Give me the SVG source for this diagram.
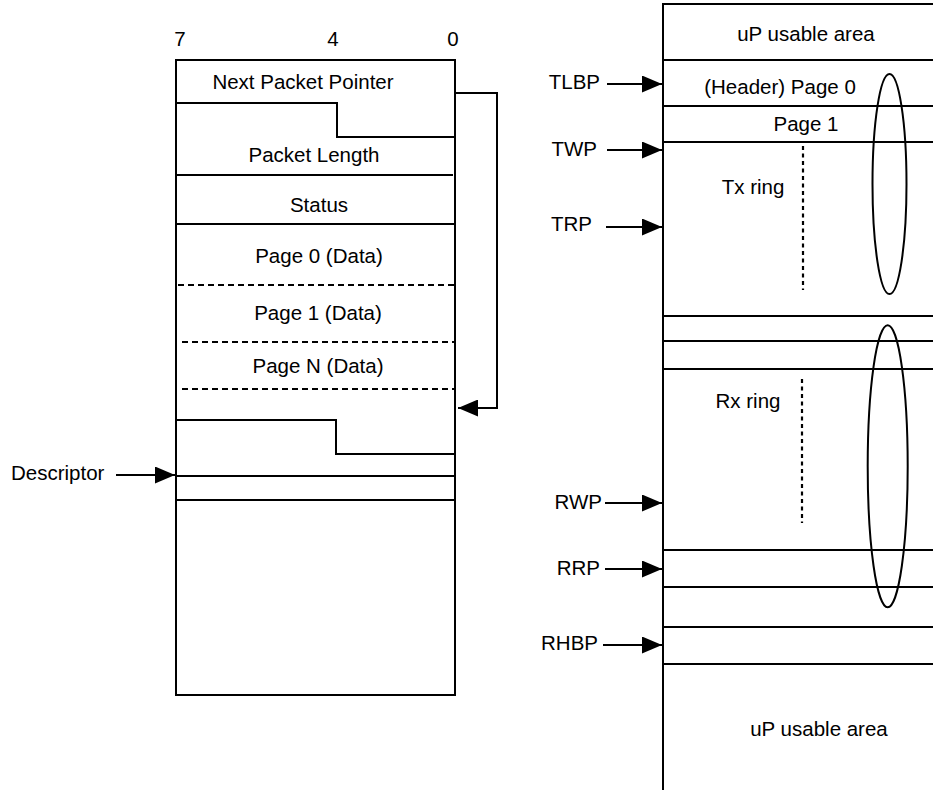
<svg xmlns="http://www.w3.org/2000/svg" width="933" height="790" viewBox="0 0 933 790">
<style>
text{font-family:"Liberation Sans",Arial,sans-serif;font-size:20.5px;fill:#000}
.c{text-anchor:middle}
.e{text-anchor:end}
.ln{stroke:#000;stroke-width:2;fill:none}
.dash{stroke:#000;stroke-width:2;fill:none;stroke-dasharray:6 4}
.dot{stroke:#000;stroke-width:2.2;fill:none;stroke-dasharray:4 3.5}
</style>
<defs>
<marker id="ah" markerUnits="userSpaceOnUse" markerWidth="20" markerHeight="17" refX="20" refY="8.5" orient="auto">
<path d="M0,0 L20,8.5 L0,17 z" fill="#000"/>
</marker>
</defs>
<rect width="933" height="790" fill="#fff"/>

<g id="packet-buffer">
<text class="c" x="180" y="46">7</text>
<text class="c" x="333" y="46">4</text>
<text class="c" x="453" y="46">0</text>
<rect class="ln" x="176" y="60" width="279" height="635"/>
<text class="c" x="303" y="89">Next Packet Pointer</text>
<path class="ln" d="M176,103 H337 V137 H455"/>
<text class="c" x="314" y="162">Packet Length</text>
<line class="ln" x1="176" y1="175" x2="453" y2="175"/>
<text class="c" x="319" y="212">Status</text>
<line class="ln" x1="176" y1="224" x2="455" y2="224"/>
<text class="c" x="319" y="263">Page 0 (Data)</text>
<line class="dash" x1="178" y1="285" x2="455" y2="285"/>
<text class="c" x="318" y="320">Page 1 (Data)</text>
<line class="dash" x1="182" y1="342" x2="455" y2="342"/>
<text class="c" x="318" y="373">Page N (Data)</text>
<line class="dash" x1="182" y1="389" x2="455" y2="389"/>
<path class="ln" d="M176,420 H336 V454 H455"/>
<line class="ln" x1="176" y1="476" x2="455" y2="476"/>
<line class="ln" x1="176" y1="500" x2="455" y2="500"/>
</g>

<g id="descriptor">
<text x="11" y="480">Descriptor</text>
</g>

<g id="memory-map">
<path class="ln" d="M663,790 V4 H935"/>
<text class="c" x="806" y="41">uP usable area</text>
<line class="ln" x1="663" y1="60" x2="935" y2="60"/>
<text class="c" x="780" y="94">(Header) Page 0</text>
<line class="ln" x1="663" y1="106" x2="935" y2="106"/>
<text class="c" x="806" y="131">Page 1</text>
<line class="ln" x1="663" y1="142" x2="935" y2="142"/>
<text class="c" x="753" y="194">Tx ring</text>
<line class="dot" x1="803" y1="146" x2="803" y2="290"/>
<ellipse class="ln" cx="889.5" cy="184" rx="17" ry="110"/>
<line class="ln" x1="663" y1="316" x2="935" y2="316"/>
<line class="ln" x1="663" y1="341" x2="935" y2="341"/>
<line class="ln" x1="663" y1="369" x2="935" y2="369"/>
<text class="c" x="748" y="408">Rx ring</text>
<line class="dot" x1="802" y1="379" x2="802" y2="523"/>
<ellipse class="ln" cx="887.7" cy="466.3" rx="20" ry="141"/>
<line class="ln" x1="663" y1="550" x2="935" y2="550"/>
<line class="ln" x1="663" y1="587" x2="935" y2="587"/>
<line class="ln" x1="663" y1="627" x2="935" y2="627"/>
<line class="ln" x1="663" y1="664" x2="935" y2="664"/>
<text class="c" x="819" y="736">uP usable area</text>
</g>

<g id="pointer-labels">
<text class="e" x="600" y="89">TLBP</text>
<text class="e" x="597" y="156">TWP</text>
<text class="e" x="592" y="231">TRP</text>
<text class="e" x="602" y="509">RWP</text>
<text class="e" x="600" y="575">RRP</text>
<text class="e" x="598" y="650">RHBP</text>
</g>

<g id="connectors">
<path class="ln" d="M456,93 H497 V408 H458" marker-end="url(#ah)"/>
<line class="ln" x1="116" y1="475" x2="175" y2="475" marker-end="url(#ah)"/>
<line class="ln" x1="607" y1="84" x2="662" y2="84" marker-end="url(#ah)"/>
<line class="ln" x1="607" y1="150" x2="662" y2="150" marker-end="url(#ah)"/>
<line class="ln" x1="606" y1="227" x2="662" y2="227" marker-end="url(#ah)"/>
<line class="ln" x1="605" y1="503" x2="662" y2="503" marker-end="url(#ah)"/>
<line class="ln" x1="605" y1="569" x2="662" y2="569" marker-end="url(#ah)"/>
<line class="ln" x1="603" y1="645" x2="662" y2="645" marker-end="url(#ah)"/>
</g>
</svg>
